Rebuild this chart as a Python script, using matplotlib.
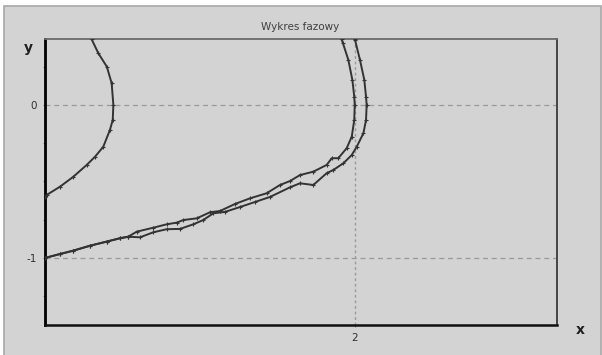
import matplotlib
matplotlib.use("Agg")
import matplotlib.pyplot as plt
from matplotlib.patches import Rectangle

# ---- data ----
title_text = "Wykres fazowy"
x_ticks = [2]
x_tick_labels = ["2"]
y_ticks = [0, -1]
y_tick_labels = ["0", "-1"]

curve1_x = [0.0, 0.011, 0.097, 0.183, 0.269, 0.323, 0.376, 0.419, 0.437, 0.441, 0.430, 0.399, 0.344, 0.301]
curve1_y = [-0.600, -0.588, -0.534, -0.469, -0.392, -0.338, -0.273, -0.163, -0.098, 0.0, 0.142, 0.250, 0.338, 0.429]

curve2_x = [0.0, 0.097, 0.183, 0.290, 0.398, 0.484, 0.537, 0.592, 0.699, 0.785, 0.850, 0.892, 0.979, 1.065,
            1.129, 1.226, 1.323, 1.430, 1.516, 1.581, 1.645, 1.731, 1.817, 1.850, 1.892, 1.946, 1.979,
            1.995, 1.998, 1.995, 1.983, 1.957, 1.921, 1.913]
curve2_y = [-1.0, -0.974, -0.952, -0.920, -0.893, -0.871, -0.861, -0.828, -0.802, -0.780, -0.769, -0.752, -0.741, -0.701,
            -0.693, -0.647, -0.610, -0.577, -0.523, -0.497, -0.458, -0.436, -0.392, -0.348, -0.348, -0.283, -0.207,
            -0.098, 0.0, 0.054, 0.163, 0.294, 0.407, 0.431]

curve3_x = [0.0, 0.097, 0.183, 0.290, 0.398, 0.484, 0.537, 0.613, 0.699, 0.785, 0.871, 0.957, 1.021, 1.086,
            1.161, 1.258, 1.355, 1.452, 1.581, 1.645, 1.731, 1.817, 1.860, 1.925, 1.979, 2.011, 2.054,
            2.071, 2.075, 2.071, 2.060, 2.032, 2.0, 1.997]
curve3_y = [-1.0, -0.974, -0.952, -0.920, -0.893, -0.871, -0.861, -0.865, -0.832, -0.812, -0.810, -0.780, -0.752, -0.708,
            -0.699, -0.667, -0.634, -0.601, -0.538, -0.512, -0.523, -0.446, -0.425, -0.381, -0.327, -0.273, -0.185,
            -0.098, 0.0, 0.054, 0.163, 0.294, 0.425, 0.431]

W, H = 602, 355
fig = plt.figure(figsize=(W / 100, H / 100), dpi=100)
fig.patch.set_facecolor("white")
bg = "#d3d3d3"
fig.patches.append(Rectangle((4 / W, -0.05), 597 / W, 1.05 - 6 / H, transform=fig.transFigure,
                             facecolor=bg, edgecolor="#a8a8a8", linewidth=1.2, zorder=-10))

ax = fig.add_axes([45 / W, 1 - 325 / H, (557 - 45) / W, (325 - 39) / H])
ax.set_facecolor(bg)
ax.set_xlim(0, 3.303)
ax.set_ylim(-1.438, 0.431)

# grid lines
for yv in y_ticks:
    ax.axhline(yv, color="#9a9a9a", lw=0.9, ls=(0, (4, 3)), zorder=1)
for xv in x_ticks:
    ax.axvline(xv, color="#9a9a9a", lw=1.0, ls=(0, (2, 2)), zorder=1)

for cx, cy in [(curve1_x, curve1_y), (curve2_x, curve2_y), (curve3_x, curve3_y)]:
    ax.plot(cx, cy, color="#333333", lw=1.4, marker="+", ms=3, mew=0.8, zorder=3, clip_on=True)

ax.set_xticks(x_ticks)
ax.set_xticklabels(x_tick_labels)
ax.set_yticks(y_ticks)
ax.set_yticklabels(y_tick_labels)
ax.set_yticks([0.25, -0.25, -0.5, -0.75, -1.25], minor=True)
ax.tick_params(axis="both", which="both", length=1.5, width=0.8, color="#808080",
               labelsize=7.5, labelcolor="#303030", pad=4)

ax.spines["left"].set_linewidth(2)
ax.spines["left"].set_color("black")
ax.spines["bottom"].set_linewidth(1.8)
ax.spines["bottom"].set_color("#101010")
ax.spines["top"].set_linewidth(1.3)
ax.spines["top"].set_color("#6a6a6a")
ax.spines["right"].set_linewidth(1.3)
ax.spines["right"].set_color("#3a3a3a")

fig.text(300 / W, 1 - 27 / H, title_text, ha="center", va="center", fontsize=7.5, color="#404040")
fig.text(28 / W, 1 - 48 / H, "y", ha="center", va="center", fontsize=10, fontweight="bold", color="#202020")
fig.text(580 / W, 1 - 330 / H, "x", ha="center", va="center", fontsize=10, fontweight="bold", color="#202020")

fig.savefig("out.png", dpi=100, facecolor=fig.get_facecolor())
